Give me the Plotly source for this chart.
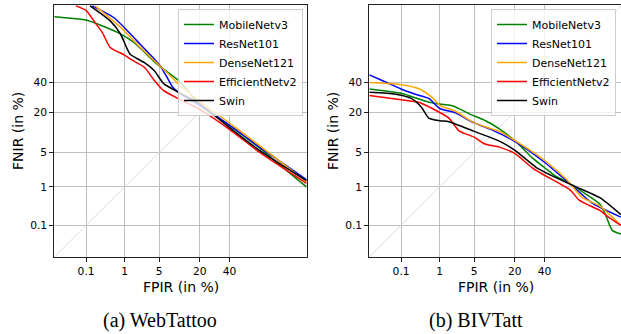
import plotly.graph_objects as go
from statistics import NormalDist

# ---------------- data (FPIR %, FNIR %) ----------------
models = ["MobileNetv3", "ResNet101", "DenseNet121", "EfficientNetv2", "Swin"]
colors = ["#008000", "#0000ff", "#ffa500", "#ff0000", "#000000"]

# (a) WebTattoo
wt_mobilenet_fpir = [0.01, 0.034, 0.1, 0.68, 1.6, 4.6, 11, 20, 40, 63.5, 78.9, 89.8]
wt_mobilenet_fnir = [85.3, 84.6, 83.7, 77, 70.5, 54.3, 40.3, 24, 13.3, 5.95, 2.6, 1.0]
wt_resnet_fpir = [0.15, 0.57, 1.35, 2.2, 4.1, 5.4, 7.3, 8.4, 11.4, 22, 42.7, 66, 81, 89.8]
wt_resnet_fnir = [89.7, 84.7, 76, 69, 58.3, 52, 41.5, 36.5, 31.2, 22.7, 12.5, 5.6, 2.8, 1.45]
wt_densenet_fpir = [0.18, 0.8, 1.9, 4.1, 7.8, 11, 22, 42.7, 66, 89.8]
wt_densenet_fnir = [89.7, 80, 69, 56.9, 45, 37.4, 24.8, 13.3, 5.9, 1.3]
wt_efficient_fpir = [0.05, 0.1, 0.17, 0.28, 0.45, 0.97, 1.35, 2.6, 4.1, 6, 11.7, 20, 40, 63.5, 89.8]
wt_efficient_fnir = [89.7, 88, 83, 77, 67, 61.5, 58.2, 52, 41.5, 33.8, 27, 21.5, 11.8, 5, 1.2]
wt_swin_fpir = [0.13, 0.45, 0.8, 1.1, 1.35, 2.6, 4.1, 6, 10, 20, 40, 63.5, 89.8]
wt_swin_fnir = [89.7, 83.3, 76, 67, 61.7, 55.6, 49, 39, 33, 24.8, 12.5, 5.4, 1.38]

# (b) BIVTatt
bt_mobilenet_fpir = [0.01, 0.045, 0.1, 0.16, 0.4, 0.8, 1.9, 4.1, 7.8, 12.6, 21, 31.5, 40, 49, 56, 70.7, 80, 83, 85, 86.3, 89.6]
bt_mobilenet_fnir = [35, 33.2, 32, 30.4, 27, 25.1, 23.7, 19, 15.5, 12, 7.5, 3.9, 2.6, 1.7, 1.38, 0.7, 0.38, 0.2, 0.1, 0.07, 0.055]
bt_resnet_fpir = [0.01, 0.034, 0.1, 0.25, 0.56, 1, 2.2, 5, 10, 20, 40, 61, 75.6, 89.6]
bt_resnet_fnir = [45.8, 40.3, 35, 31.2, 28.2, 22, 19.5, 14.5, 11.5, 7.7, 3.3, 1.1, 0.4, 0.17]
bt_densenet_fpir = [0.01, 0.09, 0.32, 0.67, 1.03, 2.2, 5, 12.6, 20, 40, 57, 69, 79.5, 89.6]
bt_densenet_fnir = [39.8, 38.3, 35, 29, 23.7, 20.4, 14.5, 11, 8, 3.6, 1.5, 0.55, 0.35, 0.1]
bt_efficient_fpir = [0.01, 0.09, 0.32, 0.8, 1.6, 2.6, 5, 7.6, 12.6, 20, 31.5, 40, 60, 67, 80, 84, 89.6]
bt_efficient_fnir = [30.4, 27.6, 25.7, 21, 16.8, 11.2, 9, 7, 6.2, 4.8, 2.5, 1.8, 0.85, 0.47, 0.26, 0.18, 0.1]
bt_swin_fpir = [0.01, 0.07, 0.2, 0.36, 0.55, 1, 1.6, 5, 12.6, 20, 34, 49, 64.5, 80, 89.6]
bt_swin_fnir = [32.6, 31.2, 28.2, 22.7, 16.8, 15.5, 15, 11, 7.8, 5.5, 2.6, 1.6, 1.0, 0.55, 0.2]

tick_pct = [0.1, 1, 5, 20, 40]
tick_text = ["0.1", "1", "5", "20", "40"]
axis_min_pct, axis_max_pct = 0.01, 90

# ---------------- helpers ----------------
nd = NormalDist()


def probit(vals):
    return [nd.inv_cdf(v / 100.0) for v in vals]


W, H = 621, 334


def px(xp):
    return xp / W


def py(yp):
    return (H - yp) / H


left_px = (54.3, 307.0)
right_px = (369.3, 621.0)
top_py, bot_py = 5.0, 257.0

lo = nd.inv_cdf(axis_min_pct / 100)
hi = nd.inv_cdf(axis_max_pct / 100)
scale = (left_px[1] - left_px[0]) / (hi - lo)
right_hi = lo + (right_px[1] - right_px[0]) / scale

fig = go.Figure()

groups = [
    (wt_mobilenet_fpir, wt_mobilenet_fnir, bt_mobilenet_fpir, bt_mobilenet_fnir),
    (wt_resnet_fpir, wt_resnet_fnir, bt_resnet_fpir, bt_resnet_fnir),
    (wt_densenet_fpir, wt_densenet_fnir, bt_densenet_fpir, bt_densenet_fnir),
    (wt_efficient_fpir, wt_efficient_fnir, bt_efficient_fpir, bt_efficient_fnir),
    (wt_swin_fpir, wt_swin_fnir, bt_swin_fpir, bt_swin_fnir),
]

# diagonal reference lines
diag = probit([axis_min_pct, axis_max_pct])
for xa, ya in (("x", "y"), ("x2", "y2")):
    fig.add_trace(go.Scatter(x=diag, y=diag, mode="lines", xaxis=xa, yaxis=ya,
                             line=dict(color="#d4d4d4", width=0.8),
                             showlegend=False, hoverinfo="skip"))

for name, col, (wx, wy, bx, by) in zip(models, colors, groups):
    fig.add_trace(go.Scatter(x=probit(wx), y=probit(wy), mode="lines", name=name,
                             line=dict(color=col, width=1.5, shape="spline", smoothing=0.6),
                             xaxis="x", yaxis="y", legend="legend"))
    fig.add_trace(go.Scatter(x=probit(bx), y=probit(by), mode="lines", name=name,
                             line=dict(color=col, width=1.5, shape="spline", smoothing=0.6),
                             xaxis="x2", yaxis="y2", legend="legend2"))

tickvals = probit(tick_pct)
font_main = "DejaVu Sans, Arial, sans-serif"


def axis_style(rng, dom, anchor):
    return dict(range=rng, domain=dom, anchor=anchor, tickvals=tickvals, ticktext=tick_text,
                showgrid=True, gridcolor="#bfbfbf", gridwidth=1, zeroline=False,
                showline=True, linecolor="#222222", linewidth=1, mirror=True,
                ticks="outside", ticklen=4, tickwidth=1, tickcolor="#222222",
                tickfont=dict(family=font_main, size=10.7, color="#000000"))


ydom = [py(bot_py), py(top_py)]
fig.update_layout(
    width=W, height=H,
    margin=dict(l=0, r=0, t=0, b=0),
    paper_bgcolor="white", plot_bgcolor="white",
    xaxis=axis_style([lo, hi], [px(left_px[0]), px(left_px[1])], "y"),
    yaxis=axis_style([lo, hi], ydom, "x"),
    xaxis2=axis_style([lo, right_hi], [px(right_px[0]), min(1.0, px(right_px[1]))], "y2"),
    yaxis2=axis_style([lo, hi], ydom, "x2"),
    legend=dict(x=px(303), xanchor="right", y=py(9), yanchor="top",
                bgcolor="rgba(255,255,255,0.8)", bordercolor="#cccccc", borderwidth=1,
                font=dict(family=font_main, size=11, color="#000000")),
    legend2=dict(x=px(616), xanchor="right", y=py(9), yanchor="top",
                 bgcolor="rgba(255,255,255,0.8)", bordercolor="#cccccc", borderwidth=1,
                 font=dict(family=font_main, size=11, color="#000000")),
)

annots = [
    dict(text="FPIR (in %)", x=px((left_px[0] + left_px[1]) / 2), y=py(287), size=14, font=font_main, angle=0),
    dict(text="FPIR (in %)", x=px(495.8), y=py(287), size=14, font=font_main, angle=0),
    dict(text="FNIR (in %)", x=px(18), y=py(131), size=14, font=font_main, angle=-90),
    dict(text="FNIR (in %)", x=px(333), y=py(131), size=14, font=font_main, angle=-90),
    dict(text="(a) WebTattoo", x=px(160), y=py(320), size=20, font="Liberation Serif, Times New Roman, serif", angle=0),
    dict(text="(b) BIVTatt", x=px(476), y=py(320), size=20, font="Liberation Serif, Times New Roman, serif", angle=0),
]
for a in annots:
    fig.add_annotation(text=a["text"], x=a["x"], y=a["y"], xref="paper", yref="paper",
                       xanchor="center", yanchor="middle", showarrow=False, textangle=a["angle"],
                       font=dict(family=a["font"], size=a["size"], color="#000000"))

# remove the browser's default 8px body margin so the figure fills the window
fig.write_html("out.html", config={"displayModeBar": False},
               post_script="document.body.style.margin='0px';")
